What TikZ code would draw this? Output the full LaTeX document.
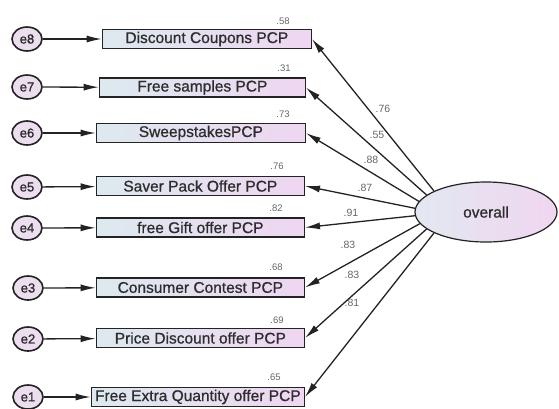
\documentclass[tikz,border=0pt]{standalone}
\usepackage{fontspec}
\setmainfont{Liberation Sans}
\usepackage{tikz}
\usetikzlibrary{shapes.geometric}
\usetikzlibrary{arrows.meta}

\definecolor{boxleft}{RGB}{221,233,239}
\definecolor{boxright}{RGB}{239,214,241}
\definecolor{errfill}{RGB}{237,222,239}
\definecolor{ovleft}{RGB}{226,232,241}
\definecolor{ovright}{RGB}{240,214,240}
\definecolor{linegray}{RGB}{35,35,35}
\definecolor{textgray}{RGB}{45,45,45}

\tikzset{
  err/.style={ellipse, draw=linegray, line width=1.6pt, fill=errfill,
    minimum width=30pt, minimum height=24pt, inner sep=0pt, text=textgray,
    font=\fontsize{13}{13}\selectfont\addfontfeature{FakeBold=1.2}},
  ind/.style={rectangle, draw=linegray, line width=1.3pt,
    left color=boxleft, right color=boxright, minimum height=19pt,
    inner sep=0pt, anchor=east, text=textgray,
    font=\fontsize{15.5}{16}\selectfont\addfontfeature{FakeBold=0.8}},
  var/.style={font=\fontsize{9.5}{10}\selectfont, text=black!60, inner sep=0pt},
  load/.style={font=\fontsize{10.5}{11}\selectfont, text=black!60, inner sep=0pt},
  tip/.style={-{Latex[length=15pt,width=7pt]}, line width=1.3pt, draw=linegray},
}

\begin{document}
\begin{tikzpicture}[x=1pt,y=-1pt]
  \useasboundingbox (0,0) rectangle (559,408);

  % error terms
  \node [err] (e8) at (27,39) {e8};
  \node [err] (e7) at (27,87) {e7};
  \node [err] (e6) at (27,133) {e6};
  \node [err] (e5) at (27,187) {e5};
  \node [err] (e4) at (27,228) {e4};
  \node [err] (e3) at (28,288) {e3};
  \node [err] (e2) at (28,339) {e2};
  \node [err] (e1) at (28,397) {e1};

  % indicators
  \node [ind, minimum width=209pt] (b8) at (312,39) {Discount Coupons PCP};
  \node [ind, minimum width=206pt] (b7) at (306,87.5) {Free samples PCP};
  \node [ind, minimum width=209pt] (b6) at (306,133) {SweepstakesPCP};
  \node [ind, minimum width=208pt] (b5) at (305,186) {Saver Pack Offer PCP};
  \node [ind, minimum width=208pt] (b4) at (305,227.5) {free Gift offer PCP};
  \node [ind, minimum width=208pt] (b3) at (305,287.5) {Consumer Contest PCP};
  \node [ind, minimum width=208pt] (b2) at (305,338) {Price Discount offer PCP};
  \node [ind, minimum width=213pt] (b1) at (305,397) {Free Extra Quantity offer PCP};

  % latent factor
  \node [ellipse, draw=linegray, line width=1.2pt, left color=ovleft, right color=ovright,
    minimum width=142pt, minimum height=60pt, inner sep=0pt, text=textgray,
    font=\fontsize{15.5}{16}\selectfont\addfontfeature{FakeBold=0.8}] (ov) at (486,212) {overall};

  % squared multiple correlations
  \node [var] (v8) at (283,21) {.58};
  \node [var] (v7) at (284,68) {.31};
  \node [var] (v6) at (283,114) {.73};
  \node [var] (v5) at (277,166) {.76};
  \node [var] (v4) at (276,208) {.82};
  \node [var] (v3) at (276,267) {.68};
  \node [var] (v2) at (277,320) {.69};
  \node [var] (v1) at (274,377) {.65};

  % error paths
  \draw [tip] (e8) -- (b8);
  \draw [tip] (e7) -- (b7);
  \draw [tip] (e6) -- (b6);
  \draw [tip] (e5) -- (b5);
  \draw [tip] (e4) -- (b4);
  \draw [tip] (e3) -- (b3);
  \draw [tip] (e2) -- (b2);
  \draw [tip] (e1) -- (b1);

  % loadings
  \draw [tip] (ov.158) -- (b8.east);
  \draw [tip] (ov.164) -- (b7.east);
  \draw [tip] (ov.171) -- (b6.east);
  \draw [tip] (ov.177) -- (b5.east);
  \draw [tip] (ov.183) -- (b4.east);
  \draw [tip] (ov.190) -- (b3.east);
  \draw [tip] (ov.196) -- (b2.east);
  \draw [tip] (ov.202) -- (b1.east);

  \node [load] (l8) at (383,109) {.76};
  \node [load] (l7) at (377,135) {.55};
  \node [load] (l6) at (371,160) {.88};
  \node [load] (l5) at (365,188) {.87};
  \node [load] (l4) at (351,213) {.91};
  \node [load] (l3) at (348,245) {.83};
  \node [load] (l2) at (352,275) {.83};
  \node [load] (l1) at (352,303) {.81};
\end{tikzpicture}
\end{document}
